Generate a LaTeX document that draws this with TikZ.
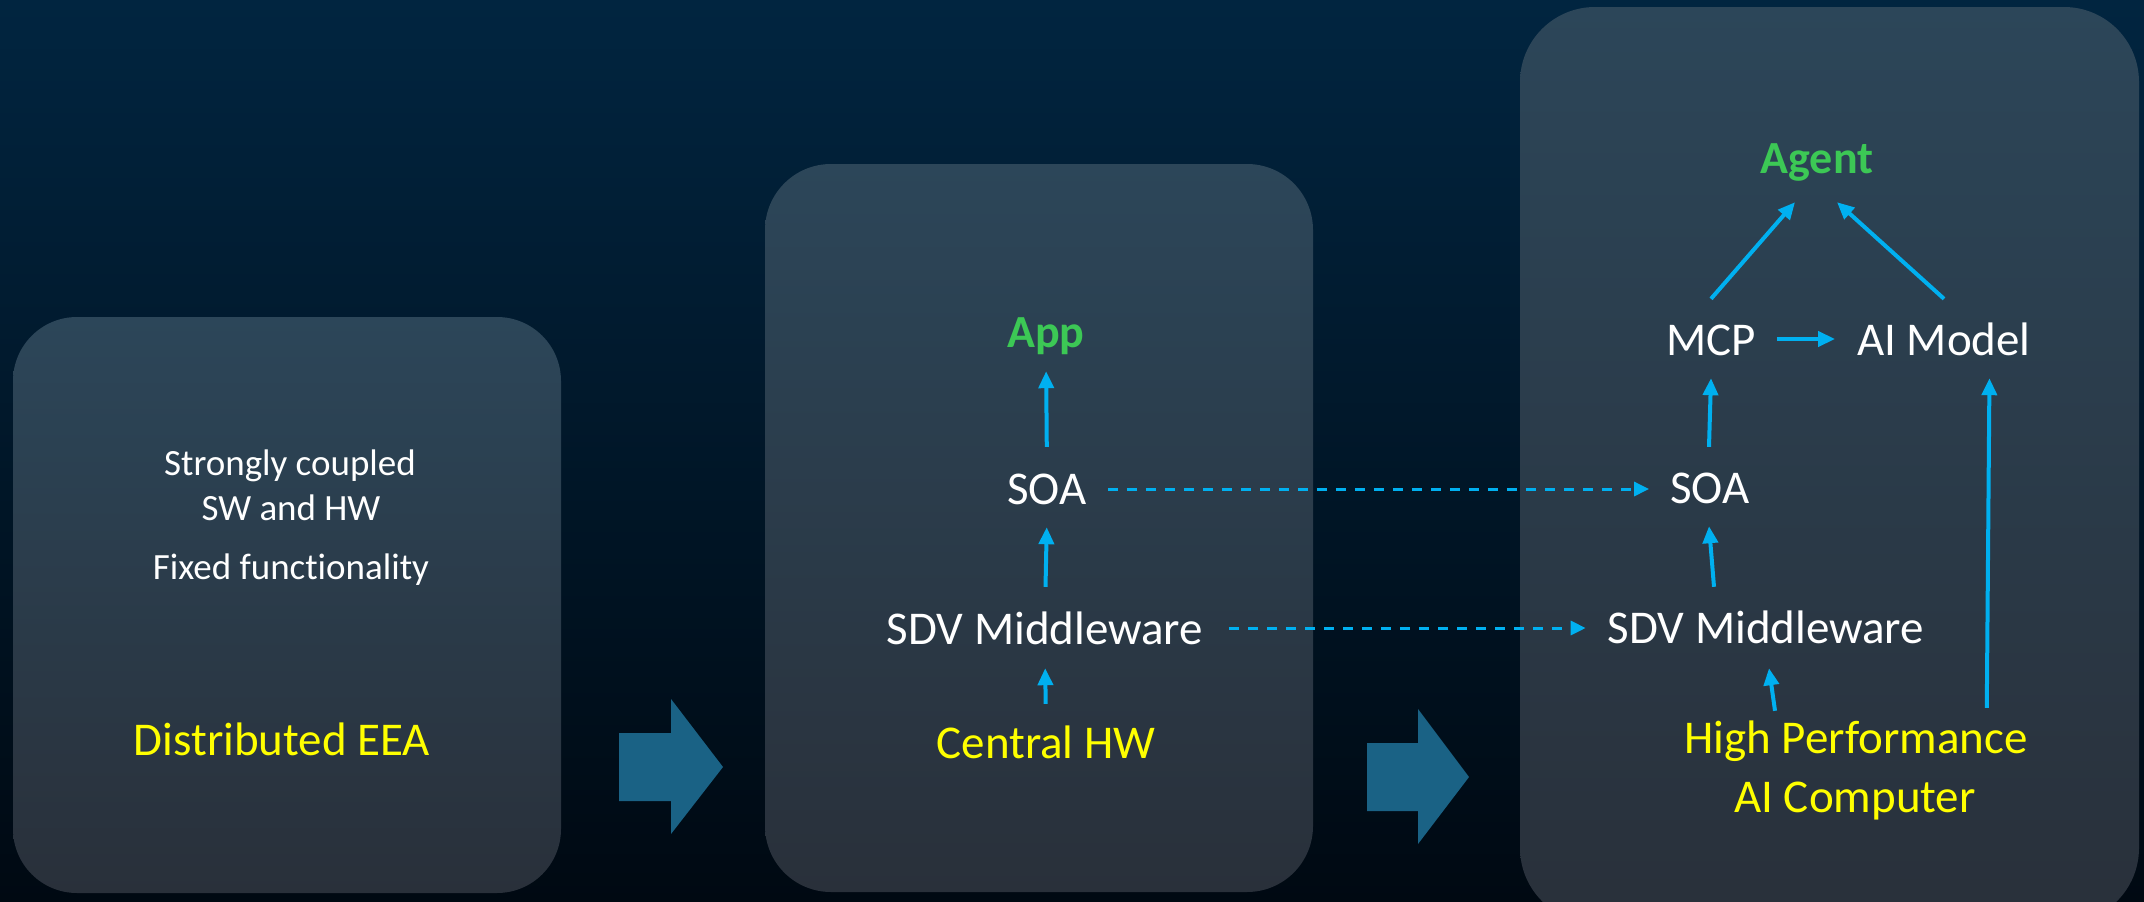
\documentclass[tikz,border=0pt]{standalone}
\usepackage{fontspec}
\setmainfont{Carlito}[Ligatures={NoCommon}]
\usetikzlibrary{arrows.meta,calc}
\definecolor{bgtop}{RGB}{1,37,64}
\definecolor{bgbot}{RGB}{0,9,18}
\definecolor{ptop}{RGB}{44,70,89}
\definecolor{pbot}{RGB}{41,48,58}
\definecolor{flow}{RGB}{0,176,240}
\definecolor{blockarrow}{RGB}{26,98,133}
\definecolor{lblgreen}{RGB}{60,200,85}
\definecolor{lblyellow}{RGB}{255,255,0}
\begin{document}
\begin{tikzpicture}[x=1pt,y=-1pt,
  panel/.style={top color=ptop, bottom color=pbot, draw=none},
  lbl/.style={inner sep=0pt, text height=32pt, text depth=10pt, anchor=base,
    text=white, font=\fontsize{47}{56}\selectfont},
  small/.style={inner sep=0pt, anchor=base, text=white, font=\fontsize{37}{44}\selectfont},
  hwlbl/.style={lbl, text=lblyellow},
  toplbl/.style={lbl, text=lblgreen, font=\fontsize{46}{55}\selectfont\bfseries},
  arr/.style={draw=flow, line width=4pt, -{Triangle[length=17pt,width=15pt]}},
  dasharr/.style={draw=flow, line width=3pt, dash pattern=on 10pt off 9pt,
    -{Triangle[length=15pt,width=14pt]}},
  bigarrow/.style={fill=blockarrow, draw=none}]

\useasboundingbox (0,0) rectangle (2144,902);
\clip (0,0) rectangle (2144,902);
\shade[top color=bgtop, bottom color=bgbot] (0,0) rectangle (2144,902);

% panels
\shade[panel, rounded corners=64pt] (13,317) rectangle (561,893);
\shade[panel, rounded corners=66pt] (765,164) rectangle (1313,892);
\shade[panel, rounded corners=75pt] (1520,7) rectangle (2139,923);

% block arrows
\fill[bigarrow] (619,733) -- (671,733) -- (671,699) -- (723,767) -- (671,834) -- (671,801) -- (619,801) -- cycle;
\fill[bigarrow] (1367,743) -- (1418,743) -- (1418,709) -- (1469,777) -- (1418,844) -- (1418,811) -- (1367,811) -- cycle;

% panel 1 texts
\node[small] (t1a) at (290,475) {Strongly coupled};
\node[small] (t1b) at (291,520) {SW and HW};
\node[small] (t1c) at (291,579) {Fixed functionality};
\node[hwlbl] (eea) at (282,755) {Distributed EEA};

% panel 2 texts
\node[toplbl] (app) at (1046,347) {App};
\node[lbl] (soa2) at (1047,504) {SOA};
\node[lbl] (sdv2) at (1045,644) {SDV Middleware};
\node[hwlbl] (hw2) at (1046,758) {Central HW};

% panel 3 texts
\node[toplbl] (agent) at (1817,173) {Agent};
\node[lbl] (mcp) at (1711,355) {MCP};
\node[lbl] (aim) at (1944,355) {AI Model};
\node[lbl] (soa3) at (1710,503) {SOA};
\node[lbl] (sdv3) at (1766,643) {SDV Middleware};
\node[hwlbl] (hpc) at (1856,753) {High Performance};
\node[hwlbl] (hpc2) at (1855,812) {AI Computer};

% panel 2 connectors
\draw[arr, shorten <=25pt, shorten >=14pt] (soa2.north) -- (app.south);
\draw[arr, shorten <=25pt, shorten >=13pt] (sdv2.north) -- (soa2.south);
\draw[arr, shorten <=22pt, shorten >=14pt] (hw2.north) -- (sdv2.south);

% dashed links
\draw[dasharr] ($(soa2.east)+(21,-4)$) -- ($(soa3.west)+(-21,-3)$);
\draw[dasharr] ($(sdv2.east)+(26,-5)$) -- ($(sdv3.west)+(-22,-4)$);

% panel 3 connectors
\draw[arr] ($(soa3.north)+(-1,-24)$) -- ($(mcp.south)+(0,13)$);
\draw[arr] ($(sdv3.north)+(-52,-24)$) -- ($(soa3.south)+(-1,13)$);
\draw[arr] ($(hpc.north)+(-81,-10)$) -- ($(sdv3.south)+(3,15)$);
\draw[arr] ($(hpc.north east)+(-41,-13)$) -- ($(aim.south east)+(-41.5,13)$);
\draw[arr] ($(mcp.east)+(21,-5)$) -- ($(aim.west)+(-22,-5)$);
\draw[arr] ($(mcp.north)+(0,-24)$) -- ($(agent.south)+(-22,19)$);
\draw[arr] ($(aim.north)+(0,-24)$) -- ($(agent.south)+(20,19)$);
\end{tikzpicture}
\end{document}
